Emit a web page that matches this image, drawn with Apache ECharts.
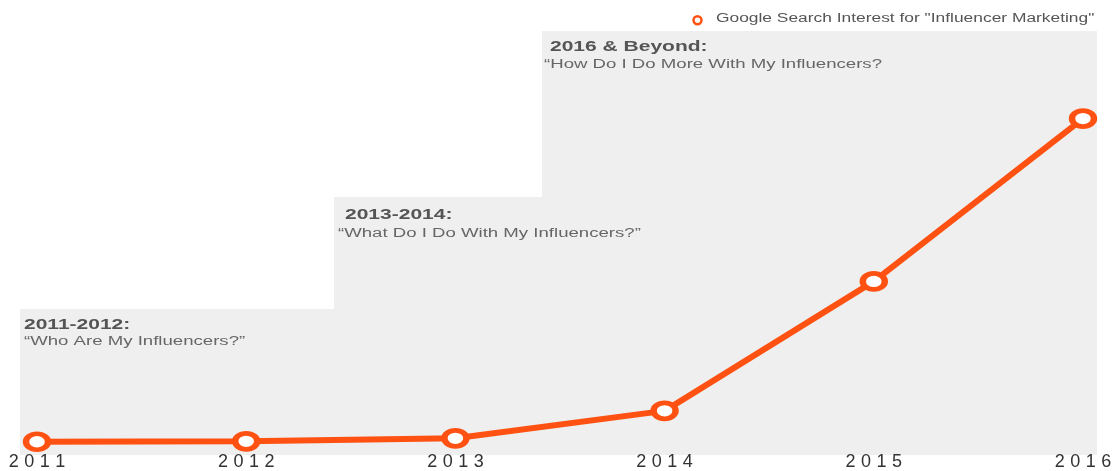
<!DOCTYPE html>
<html>
<head>
<meta charset="utf-8">
<script src="https://cdn.jsdelivr.net/npm/echarts@6/dist/echarts.min.js"></script>
<style>
html, body { margin: 0; padding: 0; background: #fff; }
#main { width: 1117px; height: 471px; }
</style>
</head>
<body>
<div id="main"></div>
<script>
var years = ['2011', '2012', '2013', '2014', '2015', '2016'];
var interest = [2.9, 3.0, 3.7, 10.2, 40.8, 79.3];
var seriesName = 'Google Search Interest for "Influencer Marketing"';
var eraTitles = ['2011-2012:', '2013-2014:', '2016 & Beyond:'];
var eraQuestions = ['\u201cWho Are My Influencers?\u201d', '\u201cWhat Do I Do With My Influencers?\u201d', '\u201cHow Do I Do More With My Influencers?'];

var chart = echarts.init(document.getElementById('main'));
var orange = '#ff5212';
var font = '"Liberation Sans", Arial, sans-serif';

// grey era backdrops
var boxes = [
	{ x: 20, y: 309, w: 315, h: 146 },
	{ x: 334, y: 197, w: 209, h: 258 },
	{ x: 542, y: 31, w: 555, h: 424 }
];
var textPos = [
	{ tx: 24, ty: 325, qx: 24, qy: 342 },
	{ tx: 345, ty: 215, qx: 338, qy: 234 },
	{ tx: 550, ty: 47, qx: 544, qy: 65 }
];
var graphics = [];
boxes.forEach(function (b) {
	graphics.push({
		type: 'rect', z: -10, silent: true,
		shape: { x: b.x, y: b.y, width: b.w, height: b.h },
		style: { fill: '#efefef' }
	});
});
textPos.forEach(function (p, i) {
	graphics.push({
		type: 'text', z: 10,
		x: p.tx, y: p.ty, scaleX: 1.5,
		style: { text: eraTitles[i], font: 'bold 14px ' + font, fill: '#555', verticalAlign: 'middle' }
	});
	graphics.push({
		type: 'text', z: 10,
		x: p.qx, y: p.qy, scaleX: 1.55,
		style: { text: eraQuestions[i], font: '12px ' + font, fill: '#666', verticalAlign: 'middle' }
	});
});
// legend label (stretched like the source image)
graphics.push({
	type: 'text', z: 10,
	x: 716, y: 19, scaleX: 1.39,
	style: { text: seriesName, font: '12.5px ' + font, fill: '#555', verticalAlign: 'middle' }
});

// spread the digits of tick labels to mimic the wide source lettering
function spreadLabel(v) {
	return v.split('').map(function (c) { return '{d|' + c + '}'; }).join('');
}

var option = {
	backgroundColor: '#fff',
	animation: false,
	graphic: graphics,
	legend: {
		left: 687,
		top: 10,
		itemWidth: 11,
		itemHeight: 8,
		icon: 'circle',
		formatter: function () { return ''; },
		data: [{
			name: seriesName,
			itemStyle: { color: '#fff', borderColor: orange, borderWidth: 2.5 }
		}]
	},
	grid: {
		left: 37,
		right: 34,
		top: 31,
		bottom: 16
	},
	xAxis: {
		type: 'category',
		boundaryGap: false,
		data: years,
		axisLine: { show: false },
		axisTick: { show: false },
		axisLabel: {
			margin: -1,
			formatter: spreadLabel,
			rich: {
				d: { fontFamily: font, fontSize: 18, color: '#333', width: 15.5, align: 'center' }
			}
		}
	},
	yAxis: {
		type: 'value',
		min: 0,
		max: 100,
		show: false,
		splitLine: { show: false }
	},
	series: [{
		name: seriesName,
		type: 'line',
		data: interest,
		symbol: 'circle',
		symbolSize: [22, 16],
		lineStyle: { color: orange, width: 6 },
		itemStyle: { color: '#fff', borderColor: orange, borderWidth: 5.5 },
		z: 5
	}]
};
chart.setOption(option);
</script>
</body>
</html>
